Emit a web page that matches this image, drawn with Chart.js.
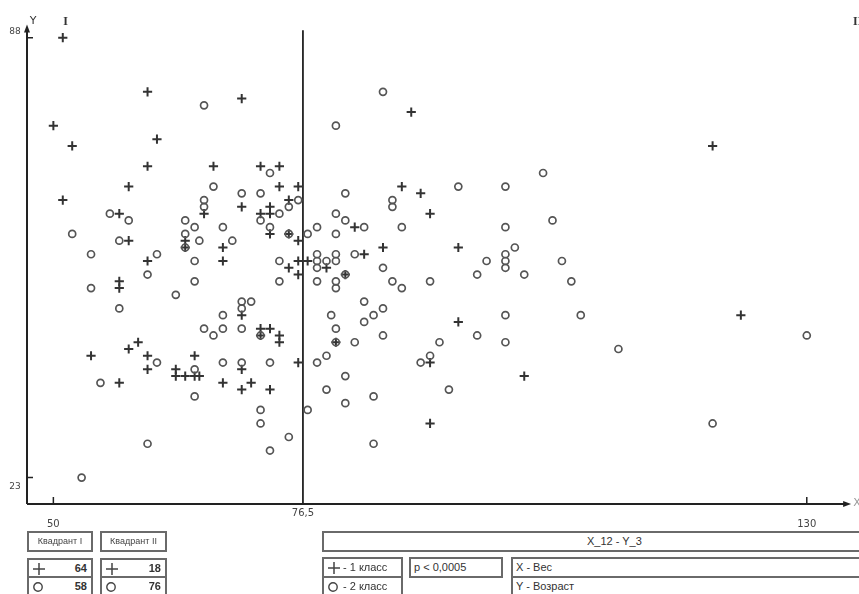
<!DOCTYPE html>
<html>
<head>
<meta charset="utf-8">
<script src="https://cdn.jsdelivr.net/npm/chart.js@4/dist/chart.umd.min.js"></script>
<style>
  html, body { margin: 0; padding: 0; background: #fff; }
  #wrap { position: relative; width: 859px; height: 594px; overflow: hidden;
          font-family: "Liberation Sans", Arial, sans-serif; color: #333; }
  #plot { position: absolute; left: 0; top: 0; }
  .box { position: absolute; box-sizing: border-box; border: 2px solid #6a6a6a; background: #fff; }
  .hdr { font-size: 9px; font-weight: normal; color: #444; text-align: center; line-height: 17px;
         will-change: transform; -webkit-font-smoothing: antialiased; }
  .cnt { font-size: 11px; font-weight: bold; }
  .cnt .num { position: absolute; right: 4px; top: 2px; }
  .cnt svg, .leg svg { position: absolute; left: 3px; top: 2px; }
  .leg { font-size: 11px; }
  .leg span { position: absolute; left: 19px; top: 2px; white-space: nowrap; }
  .txt { font-size: 11px; }
  .txt span { position: absolute; left: 3px; top: 2px; white-space: nowrap; }
</style>
</head>
<body>
<div id="wrap">
  <canvas id="plot" width="859" height="594"></canvas>

  <div class="box hdr" style="left:27px;top:531px;width:66px;height:21px;" id="q1title"></div>
  <div class="box cnt" style="left:27px;top:558px;width:66px;height:20px;">
    <svg width="14" height="14"><path d="M1 7H13M7 1V13" stroke="#444" stroke-width="1.5"/></svg>
    <span class="num" id="q1c1"></span></div>
  <div class="box cnt" style="left:27px;top:576px;width:66px;height:20px;">
    <svg width="14" height="14"><circle cx="6" cy="7" r="4.2" fill="none" stroke="#444" stroke-width="1.4"/></svg>
    <span class="num" id="q1c2"></span></div>

  <div class="box hdr" style="left:100px;top:531px;width:67px;height:21px;" id="q2title"></div>
  <div class="box cnt" style="left:100px;top:558px;width:67px;height:20px;">
    <svg width="14" height="14"><path d="M1 7H13M7 1V13" stroke="#444" stroke-width="1.5"/></svg>
    <span class="num" id="q2c1"></span></div>
  <div class="box cnt" style="left:100px;top:576px;width:67px;height:20px;">
    <svg width="14" height="14"><circle cx="6" cy="7" r="4.2" fill="none" stroke="#444" stroke-width="1.4"/></svg>
    <span class="num" id="q2c2"></span></div>

  <div class="box" style="left:322px;top:531px;width:545px;height:21px;"></div>
  <div style="position:absolute;left:587px;top:535px;font-size:11px;white-space:nowrap;" id="pairTitle"></div>

  <div class="box leg" style="left:322px;top:557px;width:81px;height:21px;">
    <svg width="14" height="14"><path d="M1 7H13M7 1V13" stroke="#444" stroke-width="1.5"/></svg>
    <span id="leg1"></span></div>
  <div class="box leg" style="left:322px;top:576px;width:81px;height:20px;">
    <svg width="14" height="14"><circle cx="6" cy="7" r="4.2" fill="none" stroke="#444" stroke-width="1.4"/></svg>
    <span id="leg2"></span></div>

  <div class="box txt" style="left:409px;top:557px;width:94px;height:21px;"><span id="pval"></span></div>

  <div class="box txt" style="left:511px;top:557px;width:356px;height:21px;"><span id="xname"></span></div>
  <div class="box txt" style="left:511px;top:576px;width:356px;height:20px;"><span id="yname"></span></div>
</div>

<script>
// Weight (kg) and age (years) of each subject, class 1 ("+")
const class1Weight = [51, 60, 70, 50, 52, 61, 60, 67, 72, 74, 58, 74, 76, 51, 66, 70, 73, 75, 72, 73,
  57, 73, 75, 58, 64, 64, 68, 60, 68, 76, 75, 76, 57, 57, 76, 70, 72, 73, 72, 74,
  74, 59, 58, 54, 60, 65, 60, 63, 63, 64, 65, 65.5, 70, 76, 68, 71, 70, 73, 57,
  77, 87, 89, 90, 82, 85, 93, 83, 79, 81, 88, 93, 90, 100, 90, 123, 120, 80];
const class1Age = [88, 80, 79, 75, 72, 73, 69, 69, 69, 69, 66, 66, 66, 64, 62, 63, 63, 64, 62, 62,
  62, 59, 59, 58, 58, 57, 57, 55, 55, 55, 54, 53, 52, 51, 58, 47, 45, 45, 44, 44,
  43, 43, 42, 41, 41, 41, 39, 39, 38, 38, 38, 38, 39, 40, 37, 37, 36, 36, 37,
  55, 66, 65, 62, 60, 57, 57, 56, 54, 53, 77, 46, 40, 38, 31, 47, 72, 43];

// Class 2 ("o")
const class2Weight = [66, 73, 67, 70, 72, 66, 66, 76, 75, 74, 56, 58, 64, 72, 65, 68, 73, 52, 64, 75,
  57, 65.5, 64, 69, 54, 61, 65, 74, 60, 54, 65, 74, 63, 70, 71, 70, 57, 68, 66, 67,
  68, 70, 72, 61, 65, 65, 68, 70, 73, 55, 60, 72, 72, 75, 73, 53,
  85, 80, 102, 81, 93, 98, 86, 86, 80, 81, 78, 77, 80, 83, 87, 103, 98, 99, 78, 80,
  82, 98, 78, 79, 80, 96, 98, 104, 78, 85, 98, 81, 95, 100, 78, 80, 80, 86, 87, 90,
  105, 83, 85, 84, 83, 79.5, 80, 80, 82, 85, 79, 78, 81, 79, 81, 84, 77, 84, 98, 106,
  95, 98, 91, 90, 89, 92, 110, 130, 120];
const class2Age = [78, 68, 66, 65, 65, 64, 63, 64, 63, 62, 62, 61, 61, 61, 60, 60, 60, 59, 59, 59,
  58, 58, 57, 58, 56, 56, 55, 55, 53, 51, 52, 52, 50, 49, 49, 48, 48, 47, 45, 44,
  45, 45, 44, 40, 39, 35, 40, 40, 40, 37, 28, 33, 31, 29, 27, 23,
  80, 75, 68, 65, 66, 66, 64, 63, 62, 61, 60, 59, 59, 60, 60, 61, 60, 57, 56, 56,
  56, 56, 55, 55, 55, 55, 55, 55, 54, 54, 54, 53, 53, 53, 52, 52, 51, 52, 51, 52,
  52, 49, 48, 47, 46, 47, 45, 43, 43, 44, 41, 40, 38, 36, 34, 35, 33, 28, 47, 47,
  44, 43, 43, 41, 40, 36, 42, 44, 31];

// Axis ticks and the weight median splitting the two quadrants
const xTicks = [50, 76.5, 130];
const xTickLabels = ['50', '76,5', '130'];
const yTicks = [23, 88];
const yTickLabels = ['23', '88'];
const medianWeight = 76.5;

// Quadrant summary table
const quadrantTitles = ['Квадрант I', 'Квадрант II'];
const quadrantClass1 = [64, 18];
const quadrantClass2 = [58, 76];
const legendLabels = ['- 1 класс', '- 2 класс'];
const pairTitle = 'X_12  -  Y_3';
const pText = 'p < 0,0005';
const axisNames = ['X - Вес', 'Y - Возраст'];

document.getElementById('q1title').textContent = quadrantTitles[0];
document.getElementById('q2title').textContent = quadrantTitles[1];
document.getElementById('q1c1').textContent = quadrantClass1[0];
document.getElementById('q2c1').textContent = quadrantClass1[1];
document.getElementById('q1c2').textContent = quadrantClass2[0];
document.getElementById('q2c2').textContent = quadrantClass2[1];
document.getElementById('leg1').textContent = legendLabels[0];
document.getElementById('leg2').textContent = legendLabels[1];
document.getElementById('pairTitle').textContent = pairTitle;
document.getElementById('pval').textContent = pText;
document.getElementById('xname').textContent = axisNames[0];
document.getElementById('yname').textContent = axisNames[1];

const toPoints = (xs, ys) => xs.map((v, i) => ({ x: v, y: ys[i] }));

// Hand-drawn style axes: arrows, short ticks, median line and labels
const axesPlugin = {
  id: 'axesPlugin',
  beforeDatasetsDraw(chart) {
    const { ctx, scales: { x, y } } = chart;
    const left = x.getPixelForValue(x.min);
    const right = x.getPixelForValue(x.max);
    const bottom = y.getPixelForValue(y.min);
    const top = y.getPixelForValue(y.max);
    ctx.save();
    ctx.strokeStyle = '#222';
    ctx.fillStyle = '#222';
    ctx.lineWidth = 2;

    // axis lines
    ctx.beginPath();
    ctx.moveTo(left, bottom);
    ctx.lineTo(left, top + 2);
    ctx.moveTo(left, bottom);
    ctx.lineTo(right - 4, bottom);
    ctx.stroke();

    // arrow heads
    ctx.beginPath();
    ctx.moveTo(left, top - 3);
    ctx.lineTo(left - 3, top + 5);
    ctx.lineTo(left + 3, top + 5);
    ctx.closePath();
    ctx.fill();
    ctx.beginPath();
    ctx.moveTo(right + 1, bottom);
    ctx.lineTo(right - 7, bottom - 3);
    ctx.lineTo(right - 7, bottom + 3);
    ctx.closePath();
    ctx.fill();

    // median line
    const mx = x.getPixelForValue(medianWeight);
    ctx.lineWidth = 1.8;
    ctx.beginPath();
    ctx.moveTo(mx, y.getPixelForValue(89.1));
    ctx.lineTo(mx, bottom);
    ctx.stroke();

    // short ticks
    ctx.lineWidth = 1.5;
    ctx.beginPath();
    xTicks.forEach(v => {
      if (v === medianWeight) return;
      const px = x.getPixelForValue(v);
      ctx.moveTo(px, bottom);
      ctx.lineTo(px, bottom - 7);
    });
    yTicks.forEach(v => {
      const py = y.getPixelForValue(v);
      ctx.moveTo(left, py);
      ctx.lineTo(left + 6, py);
    });
    ctx.stroke();

    // tick labels
    ctx.fillStyle = '#444';
    ctx.font = '10px "DejaVu Sans", sans-serif';
    ctx.textAlign = 'center';
    ctx.textBaseline = 'middle';
    xTicks.forEach((v, i) => {
      const px = x.getPixelForValue(v);
      const dy = v === medianWeight ? 9 : 20;
      ctx.fillText(xTickLabels[i], px, bottom + dy);
    });
    ctx.font = '9px "DejaVu Sans", sans-serif';
    yTicks.forEach((v, i) => {
      const py = y.getPixelForValue(v);
      const dy = v === 88 ? -6 : 9;
      ctx.fillText(yTickLabels[i], left - 12, py + dy);
    });

    // axis names and quadrant marks
    ctx.fillStyle = '#333';
    ctx.font = '11px "DejaVu Sans", sans-serif';
    ctx.fillText('Y', left + 6, top - 6);
    ctx.fillStyle = '#999';
    ctx.fillText('X', right + 7, bottom - 1);
    ctx.fillStyle = '#333';
    ctx.font = 'bold 12px "Liberation Serif", serif';
    ctx.fillText('I', x.getPixelForValue(51.3), top - 6);
    ctx.textAlign = 'left';
    ctx.fillText('II', 853, top - 6);
    ctx.restore();
  }
};

new Chart(document.getElementById('plot'), {
  type: 'scatter',
  data: {
    datasets: [
      {
        label: '2 класс',
        data: toPoints(class2Weight, class2Age),
        pointStyle: 'circle',
        pointRadius: 3.5,
        pointBorderWidth: 1.7,
        pointBorderColor: '#555',
        pointBackgroundColor: 'rgba(0,0,0,0)',
        pointHoverRadius: 3.5
      },
      {
        label: '1 класс',
        data: toPoints(class1Weight, class1Age),
        pointStyle: 'cross',
        pointRadius: 4.6,
        pointBorderWidth: 2,
        pointBorderColor: '#333',
        pointHoverRadius: 4.6
      }
    ]
  },
  options: {
    responsive: false,
    animation: false,
    devicePixelRatio: 1,
    layout: { padding: { left: 27, right: 8.9, top: 27.5, bottom: 90 } },
    plugins: { legend: { display: false }, tooltip: { enabled: false } },
    events: [],
    scales: {
      x: { type: 'linear', min: 47.2, max: 134.6, display: false },
      y: { type: 'linear', min: 19.1, max: 89.5, display: false }
    }
  },
  plugins: [axesPlugin]
});
</script>
</body>
</html>
